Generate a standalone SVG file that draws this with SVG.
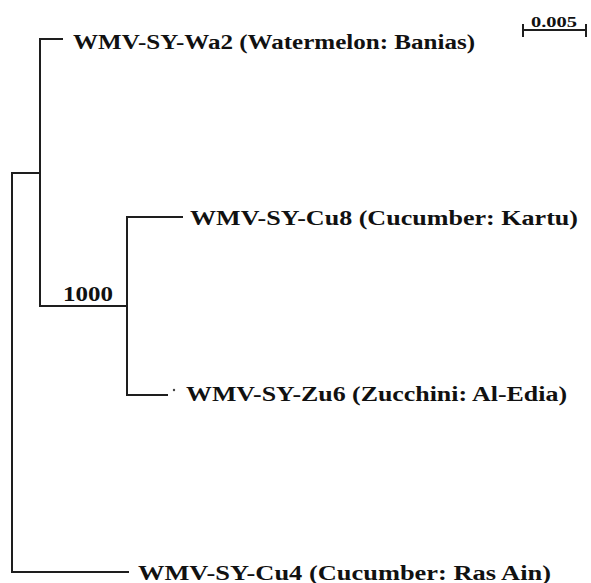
<svg xmlns="http://www.w3.org/2000/svg" width="591" height="583" viewBox="0 0 591 583">
<style>
.br{fill:none;stroke:#1e1e1e;stroke-width:2;stroke-linecap:square}
.lb{font-family:"Liberation Serif","Times New Roman",serif;font-weight:bold;font-size:20px;fill:#111}
.sc{font-family:"Liberation Serif","Times New Roman",serif;font-weight:bold;font-size:14px;fill:#111}
</style>
<rect width="591" height="583" fill="#fff"/>
<g id="connectors">
<path class="br" d="M12,173 V572 H128"/>
<path class="br" d="M12,173 H40"/>
<path class="br" d="M62,39 H40 V306 H127"/>
<path class="br" d="M182,217 H127 V395 H167"/>
</g>
<g id="wa2"><text class="lb" x="73" y="49" textLength="402" lengthAdjust="spacingAndGlyphs">WMV-SY-Wa2 (Watermelon: Banias)</text></g>
<g id="cu8"><text class="lb" x="190" y="225" textLength="388" lengthAdjust="spacingAndGlyphs">WMV-SY-Cu8 (Cucumber: Kartu)</text></g>
<g id="zu6"><circle cx="174" cy="390" r="1.2" fill="#444"/><text class="lb" x="186" y="401" textLength="381" lengthAdjust="spacingAndGlyphs">WMV-SY-Zu6 (Zucchini: Al-Edia)</text></g>
<g id="cu4"><text class="lb" x="138" y="580" textLength="413" lengthAdjust="spacingAndGlyphs">WMV-SY-Cu4 (Cucumber: Ras Ain)</text></g>
<g id="bootstrap"><text class="lb" x="63" y="301" textLength="50" lengthAdjust="spacingAndGlyphs">1000</text></g>
<g id="scale">
<path class="br" d="M523,30 H586 M523,24 V37 M586,24 V37" style="stroke-linecap:butt"/>
<text class="sc" x="531" y="27" textLength="46" lengthAdjust="spacingAndGlyphs">0.005</text>
</g>
</svg>
